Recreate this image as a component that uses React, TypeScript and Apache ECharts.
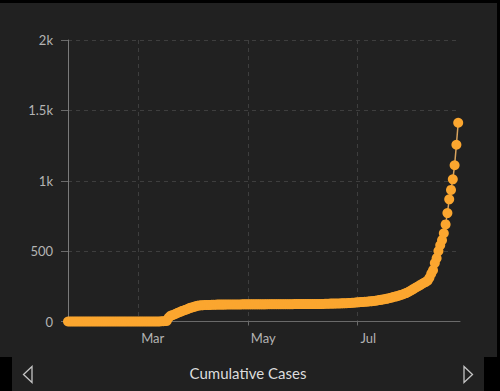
import React, { useEffect, useRef } from "react";
import * as echarts from "echarts";

// First day of the series (local time): 22 Jan 2020, one value per day
const startYear = 2020;
const startMonth = 0; // January
const startDay = 22;
const endPaddingDays = 1;

// Cumulative cases, one value per day from 22 Jan to 26 Aug
const cases: number[] = [
  // 22 Jan - 13 Mar
  0, 0, 0, 0, 0, 0, 0, 0, 0, 0, 0, 0, 0, 0, 0, 0, 0, 0, 0, 0, 0, 0, 0, 0, 0, 0,
  0, 0, 0, 0, 0, 0, 0, 0, 0, 0, 0, 0, 0, 0, 0, 0, 0, 0, 0, 0, 0, 0, 0, 0, 0, 0,
  // 14 Mar - 10 Apr
  2, 2, 3, 5, 28, 40, 45, 50, 55, 62, 66, 72, 77, 82, 86, 92, 97, 100, 104, 108,
  112, 114, 115, 116, 117, 117, 118, 118,
  // 11 Apr - 27 Apr
  119, 119, 119, 120, 120, 120, 120, 120, 121, 121, 121, 121, 121, 121, 121, 121, 121,
  // 28 Apr - 11 May
  122, 122, 122, 122, 122, 122, 122, 122, 122, 122, 122, 122, 122, 122,
  // 12 May - 26 May
  123, 123, 123, 123, 123, 123, 123, 123, 123, 123, 123, 123, 123, 123, 123,
  // 27 May - 10 Jun
  124, 124, 124, 124, 124, 124, 124, 124, 124, 124, 124, 124, 124, 124, 124,
  // 11 Jun - 20 Jun
  125, 125, 126, 126, 126, 127, 127, 127, 128, 128,
  // 21 Jun - 30 Jun
  128, 129, 129, 130, 130, 131, 132, 133, 134, 135,
  // 1 Jul - 10 Jul
  136, 137, 138, 139, 140, 141, 142, 143, 144, 146,
  // 11 Jul - 24 Jul
  148, 150, 152, 154, 156, 158, 161, 164, 167, 170, 174, 177, 180, 184,
  // 25 Jul - 26 Aug
  188, 192, 197, 202, 208, 215, 222, 230, 238, 245, 252, 260, 268, 275, 282,
  290, 310, 340, 365, 415, 450, 500, 542, 578, 627, 690, 770, 868, 935, 1010,
  1110, 1256, 1412,
];

// x tick marks (month starts) and their labels
const tickMonths = [2, 4, 6]; // Mar, May, Jul
const monthNames = ["Jan", "Feb", "Mar", "Apr", "May", "Jun", "Jul", "Aug", "Sep", "Oct", "Nov", "Dec"];
const yTicks = [0, 500, 1000, 1500, 2000];

const titleText = "Cumulative Cases";

export default function App() {
  const ref = useRef<HTMLDivElement>(null);

  useEffect(() => {
    if (!ref.current) return;
    const chart = echarts.init(ref.current, undefined, { renderer: "svg" });

    const t0 = new Date(startYear, startMonth, startDay);
    const dayIndexOf = (d: Date) => Math.round((d.getTime() - t0.getTime()) / 86400000);
    const dateOfIndex = (i: number) => new Date(startYear, startMonth, startDay + i);
    const data = cases.map((v, i) => [i, v]);
    const xMax = cases.length - 1 + endPaddingDays;
    const tickValues = tickMonths.map((m) => dayIndexOf(new Date(startYear, m, 1)));

    const font = "Lato, 'Open Sans', sans-serif";

    chart.setOption({
      animation: false,
      backgroundColor: "transparent",
      textStyle: { fontFamily: font },
      grid: { left: 68, right: 40, top: 40, bottom: 69.5, containLabel: false },
      xAxis: {
        type: "value",
        min: 0,
        max: xMax,
        axisLine: { show: true, lineStyle: { color: "#6a6a6a", width: 1 } },
        axisTick: {
          show: true,
          customValues: tickValues,
          length: 4,
          lineStyle: { color: "#6a6a6a" },
        },
        axisLabel: {
          show: true,
          customValues: tickValues,
          formatter: (v: number) => monthNames[dateOfIndex(v).getMonth()],
          color: "#b4b4b4",
          fontSize: 13,
          fontFamily: font,
          align: "left",
          padding: [0, 0, 0, 3],
          margin: 10,
          hideOverlap: false,
        },
        splitLine: {
          show: true,
          lineStyle: { color: "#3e3e3e", type: [4, 4], width: 1 },
        },
      },
      yAxis: {
        type: "value",
        min: yTicks[0],
        max: yTicks[yTicks.length - 1],
        interval: yTicks[1] - yTicks[0],
        axisLine: { show: true, lineStyle: { color: "#7a7a7a", width: 1 } },
        axisTick: { show: true, length: 7, lineStyle: { color: "#6a6a6a" } },
        axisLabel: {
          color: "#b4b4b4",
          fontSize: 13,
          fontFamily: font,
          margin: 15,
          formatter: (v: number) => (v >= 1000 ? v / 1000 + "k" : String(v)),
        },
        splitLine: {
          show: true,
          lineStyle: { color: "#3e3e3e", type: [4, 4], width: 1 },
        },
      },
      series: [
        {
          type: "line",
          data,
          showSymbol: true,
          showAllSymbol: true,
          symbol: "circle",
          symbolSize: 10,
          itemStyle: { color: "#fba62f" },
          lineStyle: { color: "#d9a45e", width: 1.5 },
          z: 3,
        },
      ],
      graphic: [
        {
          type: "text",
          x: 248,
          y: 373,
          style: {
            text: titleText,
            fill: "#dcdcdc",
            font: `15px ${font}`,
            textAlign: "center",
            textVerticalAlign: "middle",
          },
        },
        {
          type: "polygon",
          shape: { points: [[32, 366.5], [23.5, 374.5], [32, 382.5]] },
          style: { fill: "none", stroke: "#c4c4c4", lineWidth: 1.3 },
        },
        {
          type: "polygon",
          shape: { points: [[464, 366.5], [472.5, 374.5], [464, 382.5]] },
          style: { fill: "none", stroke: "#c4c4c4", lineWidth: 1.3 },
        },
      ],
    });

    return () => chart.dispose();
  }, []);

  return (
    <div style={{ position: "fixed", left: 0, top: 0, width: 500, height: 391, background: "#000", overflow: "hidden" }}>
      <div style={{ position: "absolute", left: 0, top: 3, width: 497, height: 354, background: "#212121" }} />
      <div style={{ position: "absolute", left: 12, top: 357, width: 472, height: 34, background: "#212121" }} />
      <div ref={ref} style={{ position: "absolute", left: 0, top: 0, width: 500, height: 391 }} />
    </div>
  );
}
